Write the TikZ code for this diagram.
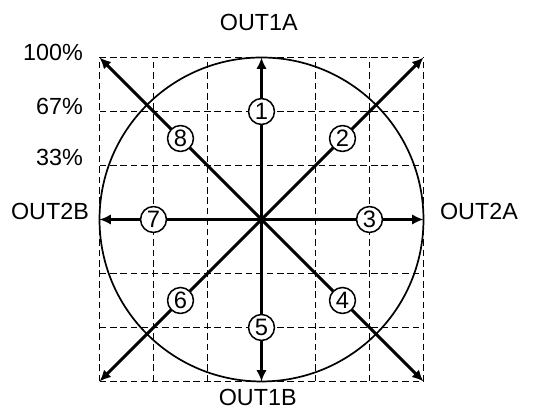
\documentclass[tikz,border=0pt]{standalone}
\usepackage{fontspec}
\setmainfont{Liberation Sans}
\usepackage{xcolor}
\definecolor{cMain}{HTML}{000000}
\usepackage{tikz}
\usetikzlibrary{positioning,arrows.meta}
\tikzset{
  grid-line/.style={draw=cMain,line width=0.5pt,dash pattern=on 3.5pt off 2pt},
  ring/.style={draw=cMain,line width=0.9pt},
  arrow-dir/.style={-{Latex[length=6pt,width=5.5pt]},line width=1.6pt,draw=cMain},
  node-num/.style={draw=cMain,circle,line width=0.8pt,fill=white,
    minimum size=4.8mm,inner sep=0pt,font=\fontsize{12.5}{14}\selectfont},
  node-label/.style={inner sep=0pt,font=\fontsize{12.3}{14}\selectfont},
}
\begin{document}
\begin{tikzpicture}
  \useasboundingbox (-4.843,-3.528) rectangle (5.102,4.065);
  \coordinate (O) at (0,0);
  % grid and unit circle
  \draw[grid-line] (-3,-3) grid (3,3);
  \draw[ring] (O) circle (3);
  % eight directions
  \foreach \n/\a/\len/\pos in {1/90/3/2, 2/45/4.2426/2.1213, 3/0/3/2,
      4/-45/4.2426/2.1213, 5/-90/3/2, 6/-135/4.2426/2.1213, 7/180/3/2,
      8/135/4.2426/2.1213} {
    \coordinate (end\n) at (\a:\len);
    \draw[arrow-dir] (O) -- (end\n);
    \node[node-num] (num\n) at (\a:\pos) {\n};
  }
  % axis labels
  \node[node-label] (out1a) at (-0.05,3.65) {OUT1A};
  \node[node-label] (out1b) at (-0.07,-3.29) {OUT1B};
  \node[node-label,anchor=east] (out2b) at (-3.19,0.14) {OUT2B};
  \node[node-label,anchor=west] (out2a) at (3.3,0.14) {OUT2A};
  \node[node-label,anchor=east] (p100) at (-3.3,3.09) {100\%};
  \node[node-label,anchor=east] (p67) at (-3.3,2.10) {67\%};
  \node[node-label,anchor=east] (p33) at (-3.3,1.14) {33\%};
\end{tikzpicture}
\end{document}
